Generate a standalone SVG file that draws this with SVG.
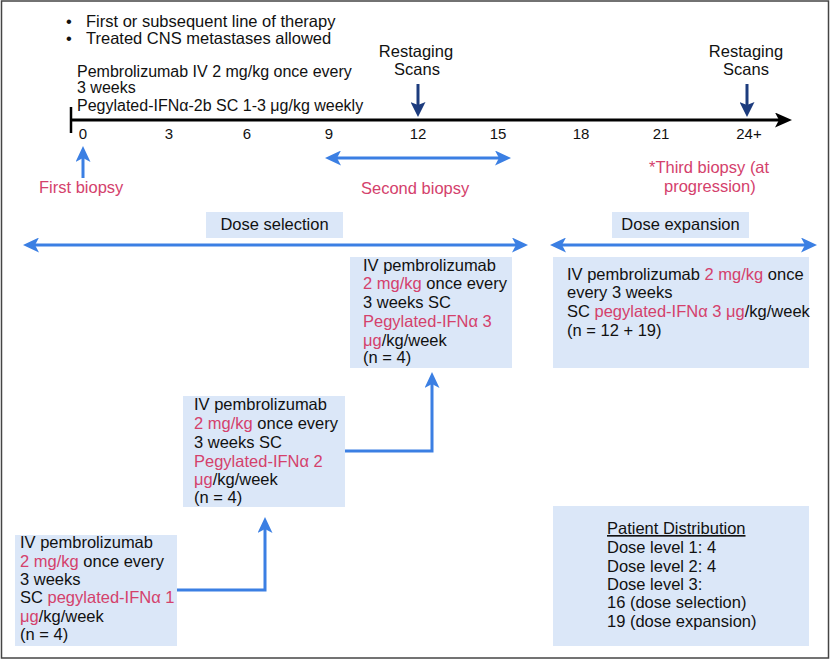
<svg xmlns="http://www.w3.org/2000/svg" width="834" height="661" viewBox="0 0 834 661">
<style>
text{font-family:"Liberation Sans",Arial,sans-serif;font-size:16.5px;fill:#111}
.r{fill:#d4416c}
.num{font-size:15px;text-anchor:middle}
.c{text-anchor:middle}
.s{font-size:16px}
.box{fill:#dbe7f8}
.blue{stroke:#3b7fe3;stroke-width:3;fill:none}
.navy{stroke:#1d3c7e;stroke-width:3;fill:none}
</style>
<defs>
<marker id="ab" markerUnits="userSpaceOnUse" markerWidth="17" markerHeight="15" refX="6" refY="7.5" orient="auto-start-reverse">
<path d="M0,0 L16,7.5 L0,15 L4,7.5 Z" fill="#3b7fe3"/>
</marker>
<marker id="an" markerUnits="userSpaceOnUse" markerWidth="15" markerHeight="15" refX="5" refY="7.5" orient="auto">
<path d="M0,0 L15,7.5 L0,15 L3,7.5 Z" fill="#1d3c7e"/>
</marker>
<marker id="ak" markerUnits="userSpaceOnUse" markerWidth="18" markerHeight="15" refX="6" refY="7.5" orient="auto">
<path d="M0,0 L17,7.5 L0,15 L4,7.5 Z" fill="#000"/>
</marker>
</defs>
<rect x="1.5" y="1" width="827" height="657" fill="#fff" stroke="#444" stroke-width="1.5"/>

<g id="header">
<text x="66" y="27">•</text><text x="86" y="27">First or subsequent line of therapy</text>
<text x="66" y="44">•</text><text x="86" y="44">Treated CNS metastases allowed</text>
<text class="s" x="77" y="77">Pembrolizumab IV 2 mg/kg once every</text>
<text class="s" x="77" y="93">3 weeks</text>
<text class="s" x="77" y="111">Pegylated-IFNα-2b SC 1-3 μg/kg weekly</text>
</g>

<g id="timeline">
<line x1="71" y1="107" x2="71" y2="133" stroke="#000" stroke-width="2.5"/>
<line x1="70" y1="120" x2="781" y2="120" stroke="#000" stroke-width="3" marker-end="url(#ak)"/>
<text class="num" x="83" y="139">0</text>
<text class="num" x="169" y="139">3</text>
<text class="num" x="247" y="139">6</text>
<text class="num" x="329" y="139">9</text>
<text class="num" x="418" y="139">12</text>
<text class="num" x="498" y="139">15</text>
<text class="num" x="581" y="139">18</text>
<text class="num" x="661" y="139">21</text>
<text class="num" x="749" y="139">24+</text>
</g>

<g id="restaging1">
<text class="c" x="416" y="57">Restaging</text>
<text class="c" x="417" y="75">Scans</text>
</g>
<g id="restaging2">
<text class="c" x="746" y="57">Restaging</text>
<text class="c" x="746" y="75">Scans</text>
</g>

<g id="first-biopsy"><text class="r" x="39" y="193">First biopsy</text></g>
<g id="second-biopsy"><text class="r" x="361" y="194">Second biopsy</text></g>
<g id="third-biopsy">
<text class="r" x="649" y="173">*Third biopsy (at</text>
<text class="r" x="664" y="192">progression)</text>
</g>

<g id="dose-selection">
<rect class="box" x="206" y="212" width="137" height="26"/>
<text class="c" x="274.5" y="230">Dose selection</text>
</g>
<g id="dose-expansion">
<rect class="box" x="612" y="212" width="137" height="26"/>
<text class="c" x="680.5" y="230">Dose expansion</text>
</g>

<g id="level1">
<rect class="box" x="15" y="535" width="162" height="111"/>
<text x="20" y="548">IV pembrolizumab</text>
<text x="20" y="567"><tspan class="r">2 mg/kg</tspan> once every</text>
<text x="20" y="585">3 weeks</text>
<text x="20" y="603">SC <tspan class="r">pegylated-IFNα 1</tspan></text>
<text x="20" y="622"><tspan class="r">μg</tspan>/kg/week</text>
<text x="20" y="640">(n = 4)</text>
</g>

<g id="level2">
<rect class="box" x="183" y="396" width="162" height="111"/>
<text x="194" y="410">IV pembrolizumab</text>
<text x="194" y="429"><tspan class="r">2 mg/kg</tspan> once every</text>
<text x="194" y="448">3 weeks SC</text>
<text x="194" y="467"><tspan class="r">Pegylated-IFNα 2</tspan></text>
<text x="194" y="485"><tspan class="r">μg</tspan>/kg/week</text>
<text x="194" y="503">(n = 4)</text>
</g>

<g id="level3">
<rect class="box" x="350" y="257" width="162" height="111"/>
<text x="363" y="271">IV pembrolizumab</text>
<text x="363" y="289"><tspan class="r">2 mg/kg</tspan> once every</text>
<text x="363" y="308">3 weeks SC</text>
<text x="363" y="327"><tspan class="r">Pegylated-IFNα 3</tspan></text>
<text x="363" y="346"><tspan class="r">μg</tspan>/kg/week</text>
<text x="363" y="363">(n = 4)</text>
</g>

<g id="expansion">
<rect class="box" x="553" y="257" width="256" height="111"/>
<text x="567" y="280">IV pembrolizumab <tspan class="r">2 mg/kg</tspan> once</text>
<text x="567" y="298">every 3 weeks</text>
<text x="567" y="317">SC <tspan class="r">pegylated-IFNα 3 μg</tspan>/kg/week</text>
<text x="567" y="336">(n = 12 + 19)</text>
</g>

<g id="distribution">
<rect class="box" x="553" y="506" width="256" height="140"/>
<text x="607" y="534" text-decoration="underline">Patient Distribution</text>
<text x="607" y="553">Dose level 1: 4</text>
<text x="607" y="572">Dose level 2: 4</text>
<text x="607" y="590">Dose level 3:</text>
<text x="607" y="608">16 (dose selection)</text>
<text x="607" y="627">19 (dose expansion)</text>
</g>

<g id="connectors">
<line class="navy" x1="418" y1="84" x2="418" y2="107" marker-end="url(#an)"/>
<line class="navy" x1="747" y1="84" x2="747" y2="107" marker-end="url(#an)"/>
<line class="blue" x1="83" y1="178" x2="83" y2="156" marker-end="url(#ab)"/>
<line class="blue" x1="335" y1="158" x2="501" y2="158" marker-start="url(#ab)" marker-end="url(#ab)"/>
<line class="blue" x1="33" y1="245" x2="518" y2="245" marker-start="url(#ab)" marker-end="url(#ab)"/>
<line class="blue" x1="560" y1="245" x2="807" y2="245" marker-start="url(#ab)" marker-end="url(#ab)"/>
<path class="blue" d="M177,590 H265 V527" marker-end="url(#ab)"/>
<path class="blue" d="M345,451 H432 V382" marker-end="url(#ab)"/>
</g>
</svg>
